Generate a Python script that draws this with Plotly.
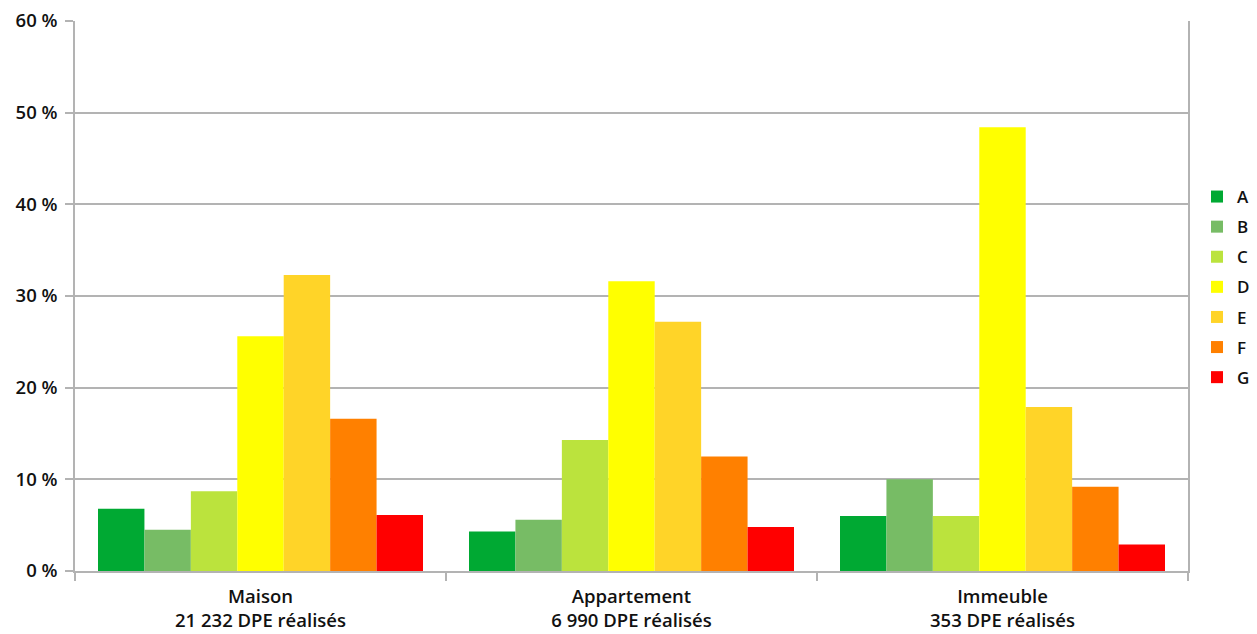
import plotly.graph_objects as go

categories = ["Maison<br>21 232 DPE réalisés", "Appartement<br>6 990 DPE réalisés", "Immeuble<br>353 DPE réalisés"]
classes = ["A", "B", "C", "D", "E", "F", "G"]
values = {
    "A": [6.8, 4.3, 6.0],
    "B": [4.5, 5.6, 10.0],
    "C": [8.7, 14.3, 6.0],
    "D": [25.6, 31.6, 48.4],
    "E": [32.3, 27.2, 17.9],
    "F": [16.6, 12.5, 9.2],
    "G": [6.1, 4.8, 2.9],
}
colors = {
    "A": "#00a933",
    "B": "#77bc65",
    "C": "#bbe33d",
    "D": "#ffff00",
    "E": "#ffd428",
    "F": "#ff8000",
    "G": "#ff0000",
}
y_ticks = [0, 10, 20, 30, 40, 50, 60]
y_ticklabels = [f"{v} %" for v in y_ticks]

FONT = "Open Sans"
TXT = "#111111"

fig = go.Figure()
for i, c in enumerate(classes):
    fig.add_trace(go.Bar(
        name=c, x=categories, y=values[c],
        marker=dict(color=colors[c], line=dict(width=0)),
        legendgroup=f"g{i}",
    ))

fig.update_layout(
    width=1257, height=634,
    barmode="group", bargap=0.124, bargroupgap=0,
    plot_bgcolor="white", paper_bgcolor="white",
    margin=dict(l=75, r=69, t=21, b=63, autoexpand=False),
    font=dict(family=FONT, size=18, color=TXT, weight=600),
    legend=dict(
        xref="container", yref="container",
        x=1197 / 1257, xanchor="left",
        y=1 - 287 / 634, yanchor="middle",
        font=dict(family=FONT, size=17, color=TXT, weight=600),
        tracegroupgap=5, itemwidth=30,
    ),
    showlegend=True,
)
fig.update_xaxes(
    showline=True, linecolor="#b3b3b3", linewidth=1.5,
    ticks="outside", ticklen=8, tickcolor="#b3b3b3", tickwidth=1.5,
    tickson="boundaries", showgrid=False,
    ticklabelstandoff=8,
    tickfont=dict(family=FONT, size=18.5, color=TXT, weight=600),
)
fig.update_yaxes(
    range=[0, 60], tickvals=y_ticks, ticktext=y_ticklabels,
    showgrid=True, gridcolor="#b3b3b3", gridwidth=1.5,
    showline=True, linecolor="#b3b3b3", linewidth=1.5, mirror=True,
    ticks="outside", ticklen=8, tickcolor="#b3b3b3", tickwidth=1.5,
    zeroline=False, ticklabelstandoff=4,
    tickfont=dict(family=FONT, size=18.5, color=TXT, weight=600),
)

fig.write_html("out.html")
